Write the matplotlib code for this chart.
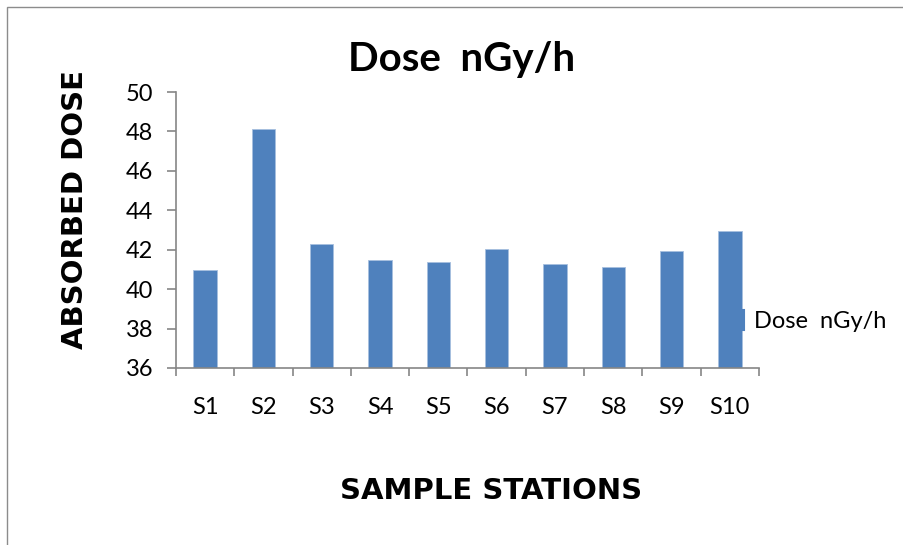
import matplotlib
matplotlib.use("Agg")
import matplotlib.pyplot as plt
import numpy as np
from matplotlib.patches import Rectangle

# values
stations = ["S1", "S2", "S3", "S4", "S5", "S6", "S7", "S8", "S9", "S10"]
dose = [40.95, 48.14, 42.31, 41.49, 41.36, 42.04, 41.29, 41.12, 41.94, 42.95]
y_ticks = [36, 38, 40, 42, 44, 46, 48, 50]
series_name = "Dose  nGy/h"

bar_color = "#4F81BD"
axis_color = "#868686"

plt.rcParams["font.family"] = ["Lato", "DejaVu Sans"]

W, H = 904, 545
fig = plt.figure(figsize=(W / 100, H / 100), dpi=100)
fig.patch.set_facecolor("white")

# outer chart frame (only top and left edges visible in the reference)
fig.add_artist(Rectangle((7 / W, -0.5), 2.0, 1.5 - 7 / H,
                         transform=fig.transFigure, fill=False,
                         edgecolor="#8c8c8c", linewidth=1.0))

ax = fig.add_axes([176 / W, 1 - 368 / H, 583 / W, 276 / H])
x = np.arange(len(stations))
ax.bar(x, dose, width=0.4, color=bar_color, edgecolor="#a7bfdf",
       linewidth=0.6, zorder=2, label=series_name)

ax.set_xlim(-0.5, len(stations) - 0.5)
ax.set_ylim(36, 50)
ax.set_yticks(y_ticks)
ax.set_xticks(x)
ax.set_xticklabels(stations)
ax.set_xticks(np.arange(-0.5, len(stations), 1.0), minor=True)

for side in ["top", "right"]:
    ax.spines[side].set_visible(False)
for side in ["left", "bottom"]:
    ax.spines[side].set_color(axis_color)
    ax.spines[side].set_linewidth(1.2)

ax.tick_params(axis="y", direction="out", length=6.5, width=1.2,
               color=axis_color, labelsize=17, pad=10)
ax.tick_params(axis="x", which="major", length=0, labelsize=17, pad=21)
ax.tick_params(axis="x", which="minor", direction="out", length=5.5,
               width=1.2, color=axis_color)

fig.text(0.5105, 0.89, series_name, ha="center", va="center",
         fontsize=29, fontweight="bold")
fig.text(0.5437, 0.099, "SAMPLE STATIONS", ha="center", va="center",
         fontsize=21, fontweight="heavy", family="DejaVu Sans")
fig.text(0.083, 0.6165, "ABSORBED DOSE", ha="center", va="center",
         rotation=90, fontsize=21, fontweight="heavy", family="DejaVu Sans")

# legend: thin colour key + series name, right of the plot
leg = ax.legend(loc="center left", bbox_to_anchor=(737 / W, 1 - 321 / H),
                bbox_transform=fig.transFigure, frameon=False, fontsize=17,
                handlelength=0.3, handleheight=0.9, handletextpad=0.4,
                borderpad=0, borderaxespad=0)
for h in leg.legend_handles:
    h.set_edgecolor(bar_color)
    h.set_linewidth(1.5)

fig.savefig("out.png", dpi=100, facecolor="white")
